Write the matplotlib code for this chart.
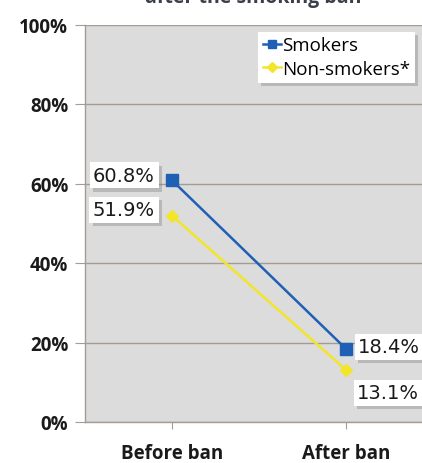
import matplotlib
matplotlib.use("Agg")
import matplotlib.pyplot as plt
import matplotlib.patheffects as pe
import numpy as np

# Share of people exposed to second-hand smoke, before and after the ban
categories = ["Before ban", "After ban"]
smokers = [60.8, 18.4]
non_smokers = [51.9, 13.1]
series_names = ["Smokers", "Non-smokers*"]
y_ticks = [0, 20, 40, 60, 80, 100]
title = "after the smoking ban"

W, H = 422, 464
fig = plt.figure(figsize=(W / 100, H / 100), dpi=100)
fig.patch.set_facecolor("white")

ax = fig.add_axes([85 / W, 41 / H, 348 / W, 397.5 / H])
ax.set_facecolor("#dcdcdc")

x = np.arange(len(categories))
blue = "#1f5fb4"
yellow = "#f2e52a"
l1, = ax.plot(x, smokers, color=blue, lw=1.8, marker="s", ms=8,
              mec=blue, mfc=blue, label=series_names[0], zorder=4)
l2, = ax.plot(x, non_smokers, color=yellow, lw=1.8, marker="D", ms=6.5,
              mec=yellow, mfc=yellow, label=series_names[1], zorder=3)

ax.set_xlim(-0.5, 1.5)
ax.set_ylim(0, 100)
ax.set_yticks(y_ticks)
ax.set_yticklabels([f"{v}%" for v in y_ticks])
ax.set_xticks(x)
ax.set_xticklabels(categories)
ax.grid(axis="y", color="#a49c94", lw=1.0)
ax.set_axisbelow(True)

for side in ["top", "right"]:
    ax.spines[side].set_visible(False)
for side in ["left", "bottom"]:
    ax.spines[side].set_color("#a49c94")
    ax.spines[side].set_linewidth(1.0)

ax.tick_params(axis="y", length=7, color="#a49c94", pad=5,
               labelsize=13.5, labelcolor="#1a1a1a")
ax.tick_params(axis="x", length=5, color="#a49c94", pad=10,
               labelsize=13.5, labelcolor="#1a1a1a")
for lab in ax.get_yticklabels() + ax.get_xticklabels():
    lab.set_fontfamily("Open Sans")
    lab.set_fontweight("bold")

shadow = [pe.withSimplePatchShadow(offset=(2.5, -2.5), shadow_rgbFace="#777777", alpha=0.35)]


def value_label(xv, yv, dx, dy, ha):
    t = ax.annotate(f"{yv}%", (xv, yv), xytext=(dx, dy), textcoords="offset pixels",
                    ha=ha, va="center", fontsize=14, family="DejaVu Sans",
                    color="#1a1a1a", zorder=6, annotation_clip=False,
                    bbox=dict(boxstyle="square,pad=0.18", fc="white", ec="none"))
    t.get_bbox_patch().set_path_effects(shadow)
    return t


value_label(x[0], smokers[0], -17, 5, "right")
value_label(x[0], non_smokers[0], -17, 6, "right")
value_label(x[1], smokers[1], 12, 2, "left")
value_label(x[1], non_smokers[1], 11, -23, "left")

leg = ax.legend(handles=[l1, l2], loc="upper right", bbox_to_anchor=(330 / 348, 1 - 7 / 397.5),
                frameon=True, fancybox=False, shadow=False,
                prop={"family": "Open Sans", "size": 13.5},
                handlelength=1.0, handletextpad=0.05, borderpad=0.25,
                labelspacing=0.3, borderaxespad=0, markerscale=0.8)
leg.get_frame().set_facecolor("white")
leg.get_frame().set_edgecolor("none")
leg.get_frame().set_alpha(1)
leg.get_frame().set_path_effects(shadow)
leg.set_zorder(7)

fig.text(0.6, 1 - 2.5 / H, title, ha="center", va="baseline", fontsize=14,
         fontweight="bold", family="Open Sans", color="#3a3f4a")

fig.savefig("out.png", dpi=100)
